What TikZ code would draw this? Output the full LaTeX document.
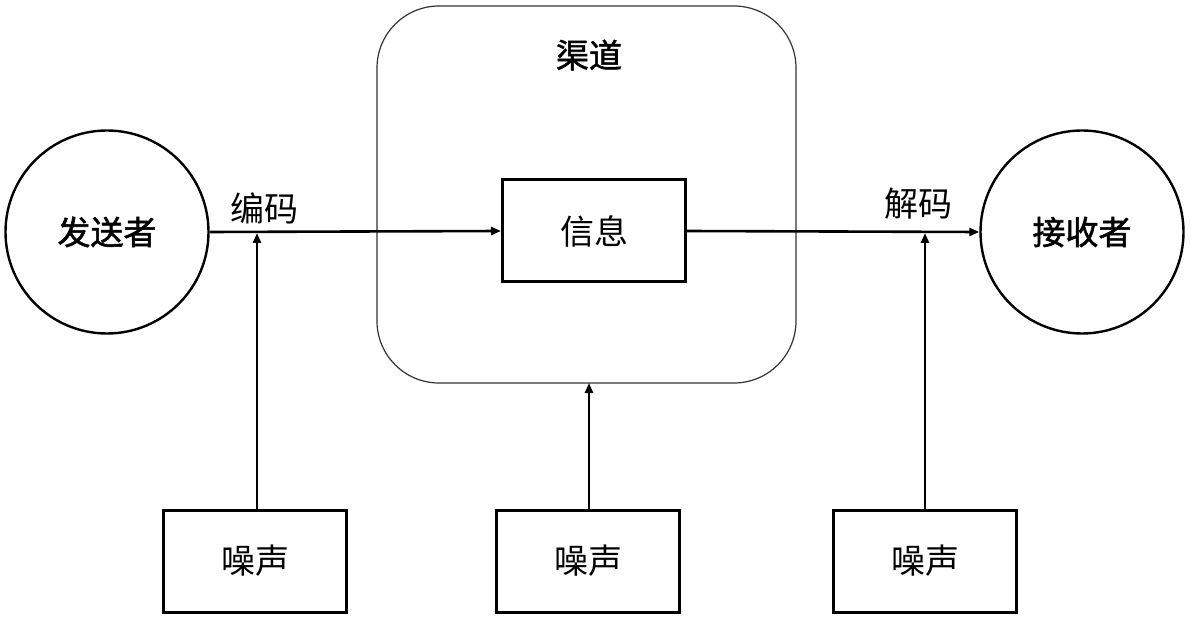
\documentclass[tikz,border=0pt]{standalone}
\usepackage{fontspec}
\setmainfont{Noto Sans CJK SC}
\newfontfamily\cjkmed[FakeBold=1.6]{Noto Sans CJK SC}
\usetikzlibrary{arrows.meta}
\begin{document}
\begin{tikzpicture}[x=1pt,y=-1pt,
  txt/.style={font=\fontsize{34}{36}\selectfont, inner sep=0pt},
  btxt/.style={font=\cjkmed\fontsize{33}{35}\selectfont, inner sep=0pt},
  party/.style={circle, draw, line width=2.4pt, minimum size=203pt, inner sep=0pt, font=\cjkmed\fontsize{33}{35}\selectfont},
  boxnode/.style={rectangle, draw, line width=3pt, minimum width=183pt, minimum height=102pt, inner sep=0pt, font=\fontsize{34}{36}\selectfont},
  conn/.style={line width=2.6pt, -{Triangle[length=10pt,width=8pt]}},
  chan/.style={draw=black!80, line width=1.2pt, rounded corners=62pt}
]
\useasboundingbox (0,0) rectangle (1191,620);
% channel
\draw[chan] (377,6) rectangle (796,383);
\coordinate (chanbot) at (589,383);
\node[btxt] (chanlabel) at (589,55) {渠道};
% parties
\node[party] (sender) at (107,232) {发送者};
\node[party] (receiver) at (1082,232) {接收者};
% message
\node[boxnode] (msg) at (594,231) {信息};
% noise boxes
\node[boxnode] (n1) at (255,561) {噪声};
\node[boxnode] (n2) at (588,561) {噪声};
\node[boxnode] (n3) at (925,561) {噪声};
% main connectors
\draw[conn] (sender.east) -- (msg.west);
\draw[conn] (msg.east) -- (receiver.west);
% labels
\node[txt] (enc) at (264,208) {编码};
\node[txt] (dec) at (918,204) {解码};
% noise connectors
\coordinate (j1) at (257,233);
\coordinate (j3) at (925,233);
\draw[conn] (n1.north -| j1) -- (j1);
\draw[conn] (n2.north -| chanbot) -- (chanbot);
\draw[conn] (n3.north -| j3) -- (j3);
\end{tikzpicture}
\end{document}
